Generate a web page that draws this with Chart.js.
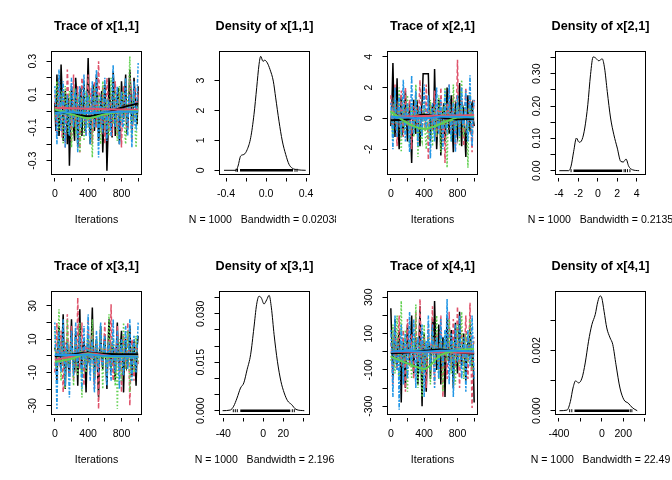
<!DOCTYPE html>
<html>
<head>
<meta charset="utf-8">
<script src="https://cdn.jsdelivr.net/npm/chart.js@4/dist/chart.umd.min.js"></script>
<style>
  html, body { margin: 0; padding: 0; background: #fff; }
  #wrap { position: relative; width: 672px; height: 480px; overflow: hidden; }
  #wrap canvas { position: absolute; }
</style>
</head>
<body>
<div id="wrap"></div>
<script>
// iterations kept for the trace panels (thinned)
var iterations = [0, 12.5, 25, 37.5, 50, 62.5, 75, 87.5, 100, 112.5, 125, 137.5, 150, 162.5, 175, 187.5, 200, 212.5, 225, 237.5,
    250, 262.5, 275, 287.5, 300, 312.5, 325, 337.5, 350, 362.5, 375, 387.5, 400, 412.5, 425, 437.5, 450, 462.5, 475, 487.5,
    500, 512.5, 525, 537.5, 550, 562.5, 575, 587.5, 600, 612.5, 625, 637.5, 650, 662.5, 675, 687.5, 700, 712.5, 725, 737.5,
    750, 762.5, 775, 787.5, 800, 812.5, 825, 837.5, 850, 862.5, 875, 887.5, 900, 912.5, 925, 937.5, 950, 962.5, 975, 987.5, 1000];

// x[1,1] chains
var x11Chain1 = [0.05, -0.12, 0.22, 0.02, -0.15, -0.05, 0.28, 0.1, -0.18, -0.02, 0.12, 0.05, -0.2, 0.08, -0.33, -0.1, 0.15, 0.05, -0.1, -0.18,
    0.2, 0.1, -0.22, -0.08, 0.08, 0.14, -0.15, 0.02, 0.18, -0.12, -0.05, 0.1, 0.32, 0.05, -0.2, -0.06, 0.1, 0.16, -0.12, -0.02,
    0.22, 0.08, -0.18, -0.1, 0.05, 0.12, -0.25, -0.08, 0.16, 0.02, -0.36, -0.15, 0.2, 0.08, -0.08, -0.16, 0.24, 0.12, -0.15, 0.0,
    0.1, 0.14, -0.2, -0.06, 0.18, 0.06, -0.05, 0.1, 0.22, -0.12, -0.1, 0.05, 0.25, 0.12, -0.12, -0.04, 0.2, 0.1, 0.02, -0.08, 0.15];
var x11Chain2 = [0.1, -0.02, -0.15, 0.08, 0.2, 0.0, -0.05, -0.16, 0.12, 0.04, -0.22, -0.05, 0.25, 0.1, 0.05, -0.08, -0.18, 0.06, 0.22, -0.04,
    -0.1, 0.08, 0.15, -0.1, -0.25, 0.02, 0.2, 0.12, 0.1, -0.05, -0.15, 0.06, 0.22, -0.1, 0.05, 0.14, -0.2, 0.0, 0.18, 0.06,
    -0.1, 0.12, 0.3, 0.02, -0.05, -0.14, 0.15, 0.05, -0.2, -0.06, 0.2, 0.08, -0.12, 0.02, 0.1, -0.15, -0.05, 0.06, 0.18, -0.02,
    -0.15, 0.04, 0.12, -0.08, -0.22, 0.0, 0.15, 0.08, 0.05, -0.12, -0.1, 0.06, 0.2, 0.1, -0.18, -0.02, 0.1, 0.14, -0.05, 0.02, 0.12];
var x11Chain3 = [-0.05, 0.06, 0.18, 0.02, -0.12, -0.02, 0.1, 0.12, -0.2, -0.06, 0.15, 0.0, -0.05, -0.14, 0.12, 0.06, -0.22, -0.1, 0.05, 0.14,
    -0.15, -0.02, 0.1, 0.04, -0.25, -0.12, 0.08, 0.0, -0.18, 0.04, 0.12, -0.04, -0.1, 0.1, 0.05, -0.12, -0.28, -0.05, 0.15, 0.08,
    -0.05, -0.1, 0.1, 0.02, -0.2, -0.08, 0.18, 0.1, -0.1, 0.02, 0.05, -0.05, -0.15, 0.06, 0.2, -0.02, -0.08, 0.08, 0.12, -0.1,
    -0.18, 0.02, 0.15, -0.06, -0.05, 0.12, 0.1, -0.12, -0.2, 0.0, 0.08, 0.14, 0.33, -0.04, -0.15, 0.08, 0.1, -0.1, -0.22, -0.02, 0.05];
var x11Chain4 = [0.15, 0.0, -0.2, -0.05, 0.25, 0.08, -0.12, 0.04, 0.18, -0.06, -0.22, 0.02, 0.1, -0.08, -0.15, 0.06, 0.2, 0.0, -0.1, 0.1,
    0.12, -0.04, -0.25, 0.05, 0.15, -0.1, -0.05, 0.08, 0.22, -0.02, -0.15, 0.1, 0.08, -0.12, -0.2, 0.04, 0.18, -0.04, -0.1, 0.12,
    0.25, -0.06, -0.28, 0.02, 0.1, -0.1, -0.12, 0.08, 0.2, -0.04, -0.18, 0.06, 0.05, -0.08, -0.15, 0.1, 0.28, 0.0, -0.1, 0.06,
    0.15, -0.08, -0.2, 0.04, 0.12, -0.1, -0.08, 0.1, 0.2, -0.02, -0.15, 0.08, 0.1, -0.06, -0.22, 0.04, 0.18, -0.08, -0.1, 0.1, 0.29];

// x[2,1] chains
var x21Chain1 = [-0.5, 0.8, 3.6, 0.5, -1.2, 0.2, 2.6, -0.4, -2.0, 0.3, 1.5, -1.0, -0.8, 0.6, 1.8, -0.2, -1.5, 0.4, 0.8, -1.0,
    -2.9, 0.2, 1.2, -0.6, -1.0, 1.2, 0.5, -0.8, -1.8, 0.3, 1.0, 2.9, 2.9, 2.9, 2.9, 2.9, 2.9, 0.4, -1.5, 0.6,
    0.8, -0.8, 3.2, 0.2, -2.0, -0.5, 1.2, 0.6, -2.4, -0.3, 0.5, 1.0, -1.5, -0.4, 2.0, 0.2, -1.0, 0.5, 1.5, -0.6,
    -2.2, 0.4, 0.8, -0.8, -1.2, 0.6, 2.3, -0.2, -1.8, 0.8, 0.5, -1.0, -2.5, 0.2, 1.5, -0.6, -0.8, 0.8, 1.0, 0.0, -0.5];
var x21Chain2 = [1.5, 0.2, -1.0, 0.6, 2.2, -0.5, -1.8, 0.8, 0.5, -0.6, 1.8, 0.2, -1.2, 0.8, 2.0, -0.4, -0.5, 0.6, 1.2, -0.8,
    -2.0, 0.3, 0.8, -0.5, 1.5, 0.4, -1.5, 0.8, 2.5, -0.3, -1.0, 0.6, 0.3, -0.8, 2.2, 0.4, -2.7, -0.2, 1.0, 0.5,
    -0.8, 0.2, 1.8, -0.6, -1.2, 0.9, 0.5, -1.0, 2.0, 0.3, -1.5, 0.4, -2.9, -0.5, 1.0, 0.2, 2.2, -0.7, -0.8, 0.6,
    1.5, -0.3, -2.0, 0.5, 3.8, 0.0, -1.0, 0.8, 1.2, -0.4, -1.8, 0.6, 2.0, -0.2, -0.5, 0.7, 1.5, -0.8, -2.2, 0.3, 1.2];
var x21Chain3 = [0.5, 0.0, -1.5, 0.6, 1.8, -0.2, -0.8, 0.4, 2.0, -0.6, -2.2, 0.2, 1.2, -0.8, -0.5, 0.5, 1.5, -0.4, -1.8, -0.2,
    0.8, 0.3, -1.2, -0.6, 2.2, 0.4, -2.5, -0.8, 0.5, -1.2, -1.5, 0.2, 1.0, -1.0, -2.0, -0.3, -0.5, -1.4, 1.2, -0.2,
    -1.8, 0.0, 0.8, -0.8, -1.0, 0.4, 1.5, -0.5, -2.2, 0.2, 0.5, -0.6, 2.0, 0.3, -3.2, -0.4, 1.0, 0.5, -1.5, -0.2,
    2.2, 0.6, -0.8, -0.4, 1.2, 0.2, -1.8, 0.5, 2.5, -0.3, -1.2, 0.6, 0.8, -0.5, -3.2, 0.2, 1.5, -0.4, -1.0, 0.6, 0.5];
var x21Chain4 = [1.0, -0.2, -2.0, 0.4, 2.0, 0.0, -1.2, 0.6, 1.5, -0.4, -0.8, 0.8, 2.5, -0.2, -1.5, 0.5, 1.0, -0.6, -2.2, 0.3,
    2.8, -0.4, -1.0, 0.6, 1.8, -0.2, -1.8, 0.4, 0.8, -0.6, -1.2, 0.9, 2.2, -0.3, -0.5, 0.5, 1.5, -0.8, -2.6, 0.2,
    1.0, -0.4, -1.5, 0.7, 2.0, -0.1, -1.0, 0.5, 1.2, -0.7, -2.0, 0.3, 1.8, -0.5, -0.8, 0.6, 2.2, -0.2, -1.5, 0.4,
    1.0, -0.6, -2.2, 0.5, 1.5, -0.3, -1.2, 0.7, 2.0, -0.4, -0.5, 0.5, 1.8, -0.6, -1.5, 0.3, 2.8, -0.2, -1.8, 0.6, 1.2];

// x[3,1] chains
var x31Chain1 = [5, 2, -15, 6, 18, -2, -8, 8, 25, -4, -20, 3, 10, -6, -12, 5, 22, 0, -5, -10,
    15, 4, -18, 6, 28, -3, -10, 7, 8, -6, -22, 2, 12, -4, -5, 8, 29, 0, -15, 5,
    10, -8, -25, 4, 18, -2, -8, 7, 12, -5, -20, 3, 22, -1, -10, 6, 5, -6, -15, 4,
    20, -3, -8, 6, 15, -2, -22, 5, 10, -7, -5, 4, 18, -3, -12, 6, 8, -4, -18, 5, 12];
var x31Chain2 = [-10, 4, 20, -3, -5, 6, 15, -4, -22, 0, 8, -5, 25, 3, -12, 6, 18, -2, -15, 5,
    10, -6, 35, 4, -8, 2, 20, -4, -18, 6, 5, -3, 22, 2, -10, 7, 15, -5, -20, 3,
    8, -6, -32, 2, 15, -3, -5, 6, 20, -2, -12, 4, 10, -5, 31, 3, -15, 0, 5, -6,
    18, 2, -10, 5, -22, -2, 12, 4, -8, -4, 20, 2, -30, -3, 10, 5, -15, -2, 8, 3, -5];
var x31Chain3 = [15, -4, -8, 6, 28, -2, -15, 4, 10, -7, -20, 2, 22, -4, -5, 6, 12, -3, -18, 5,
    8, -6, -12, 3, 20, -2, -25, 4, 5, -8, -10, 6, 15, -3, -8, 5, 22, -6, -15, 2,
    10, -4, -5, 7, 18, -2, -20, 4, 8, -5, -12, 3, 25, -2, -8, 6, 12, -4, -18, 2,
    -32, -6, 10, 4, -15, -2, 20, 3, -8, -5, 15, 2, -22, -4, 5, 6, -10, -2, 12, 3, -5];
var x31Chain4 = [20, -4, -32, 2, 15, -3, -10, 6, 22, -2, -18, 4, 8, -6, -25, 3, 15, -1, -12, 5,
    20, -3, -5, 6, 12, -4, -20, 2, 18, -5, -8, 7, 25, -2, -15, 4, 10, -6, -22, 3,
    15, -2, -10, 6, 20, -4, -5, 5, 12, -3, -18, 4, 8, -6, -15, 3, 22, -2, -10, 5,
    15, -4, -20, 3, 10, -5, -12, 6, 18, -2, -8, 4, 22, -6, -15, 3, 12, -4, -10, 5, 20];

// x[4,1] chains
var x41Chain1 = [240, 40, -150, 20, 180, -30, -80, 60, 120, -40, -280, 10, 50, -60, -200, 30, 150, -20, -50, 70,
    200, -30, -120, 40, 80, -50, -180, 20, 250, -40, -300, 30, 100, -60, -220, 10, 60, 40, -150, 20,
    180, -20, 280, 50, -100, -30, 150, 40, -180, -20, 80, 30, -250, -10, 200, 40, -60, 20, 120, -40,
    -200, 10, 160, -30, -120, 50, 220, -20, -80, 30, 100, -50, -160, 20, 50, -30, 150, 40, -100, -20, -280];
var x41Chain2 = [50, -20, -180, 30, 150, -40, -100, 50, 200, -10, -50, 40, 120, -30, -220, 20, 180, -40, -80, 60,
    100, -50, -150, 20, 220, -30, -60, 40, 290, -20, -120, 50, 80, -40, -200, 10, 150, -20, -30, 60,
    250, -40, -180, 20, 100, -30, -120, 50, 200, -20, -250, 10, 60, -40, -150, 30, 220, -10, -100, 40,
    180, -30, -80, 50, 250, -20, -200, 30, 120, -40, -60, 50, 200, -30, -150, 20, 270, -40, -310, 30, 80];
var x41Chain3 = [-50, 20, 150, -30, -120, 40, 200, -20, -180, 30, 280, -50, -80, 40, 120, -60, -220, 10, 60, -40,
    -150, 30, 100, -20, 260, -70, -200, -20, 50, -60, -250, -10, 150, -80, -100, 20, 80, -60, -180, -10,
    120, -50, -60, 20, 200, -30, -150, 40, 80, -20, -220, 30, 100, -10, -50, 40, 180, -20, -120, 30,
    60, -40, -180, 20, 150, -30, -80, 40, 220, -10, -150, 30, 100, -20, -60, 40, 180, -10, -100, 30, 50];
var x41Chain4 = [120, -20, -250, 30, 200, -40, -100, 50, -320, -10, 150, -30, -180, 40, 100, -20, -150, 30, 220, -40,
    -60, 50, 180, -10, -200, 30, 80, -40, -120, 60, 150, -20, -250, 20, 60, -30, 200, 10, -100, 40,
    150, -30, -200, 20, 80, -40, -150, 50, 180, -20, -80, 30, 120, -10, 290, 20, -180, -30, 100, 40,
    -250, -20, 150, 30, -50, -40, 200, 20, -150, -30, 80, 40, -220, -10, 120, 30, -80, -20, 200, 40, -150];

// lowess smooths, one row per chain
var smoothIter = [0, 200, 400, 600, 800, 1000];
var x11Smooth = [[0.0, -0.018, -0.032, -0.012, 0.02, 0.045], [0.02, 0.017, 0.014, 0.011, 0.009, 0.007],
    [0.01, -0.02, -0.043, -0.02, -0.005, 0.0], [-0.01, -0.008, -0.012, -0.008, -0.005, -0.005]];
var x21Smooth = [[-0.12, -0.05, 0.25, 0.05, -0.05, -0.02], [0.08, 0.12, 0.15, 0.17, 0.19, 0.22],
    [0.42, -0.3, -0.68, -0.35, 0.05, 0.1], [0.1, 0.05, 0.0, 0.1, 0.1, 0.05]];
var x31Smooth = [[-0.2, 0.8, 1.8, 1.2, 0.9, 1.0], [-2.5, -0.5, 1.6, 0.4, -0.3, -0.3],
    [-3.6, -1.8, 1.3, -0.6, -0.5, -0.4], [0.5, 0.5, 0.8, 0.0, -0.3, -0.5]];
var x41Smooth = [[-9, -4, 5, 12, -3, -11], [0, 0, -2, -3, -4, -5],
    [-27, -64, -95, -18, 7, 16], [0, 5, 0, 5, 5, 0]];

// densities
var x11DensX = [-0.42, -0.30, -0.28, -0.253, -0.22, -0.187, -0.153, -0.12, -0.093, -0.07, -0.053, -0.03, -0.013, 0.013, 0.04, 0.073, 0.097, 0.13, 0.163, 0.197, 0.23, 0.263, 0.307, 0.397];
var x11DensY = [0, 0, 0.14, 0.48, 0.53, 0.7, 1.09, 1.87, 2.76, 3.53, 3.81, 3.64, 3.68, 3.59, 3.37, 2.98, 2.42, 1.64, 0.98, 0.53, 0.2, 0.07, 0.02, 0];
var x21DensX = [-3.96, -3.0, -2.75, -2.48, -2.2, -1.93, -1.62, -1.34, -1.03, -0.75, -0.48, -0.24, 0.1, 0.45, 0.69, 0.97, 1.31, 1.65, 2.0, 2.35, 2.62, 2.9, 3.17, 3.55, 4.24];
var x21DensY = [0, 0, 0.014, 0.06, 0.101, 0.088, 0.096, 0.132, 0.204, 0.297, 0.352, 0.349, 0.34, 0.346, 0.318, 0.245, 0.163, 0.111, 0.07, 0.029, 0.027, 0.036, 0.014, 0.003, 0];
var x31DensX = [-40.7, -33, -29.6, -26.3, -22.8, -19.5, -16.2, -12.7, -9.4, -6.7, -4.3, -2.0, 0.7, 3.4, 5.8, 8.1, 10.8, 14.1, 17.6, 20.9, 24.2, 28.3, 32.7, 41];
var x31DensY = [0, 0.0002, 0.0014, 0.0039, 0.007, 0.0086, 0.0127, 0.0173, 0.0256, 0.0328, 0.0354, 0.0349, 0.033, 0.0343, 0.0357, 0.0318, 0.0235, 0.0153, 0.0091, 0.0055, 0.0031, 0.0019, 0.0004, 0];
var x41DensX = [-395, -324, -293, -269, -244, -217, -185, -155, -124, -93, -62, -37, -16, 0, 21, 46, 77, 102, 132, 169, 206, 246, 287, 330];
var x41DensY = [0, 0.00002, 0.00031, 0.00075, 0.00099, 0.00092, 0.00108, 0.00158, 0.0023, 0.00285, 0.00318, 0.00362, 0.0038, 0.00373, 0.00329, 0.00274, 0.00241, 0.00219, 0.00152, 0.00075, 0.00036, 0.00025, 0.00009, 0];

// rug of observations: dense span, then the scattered ones
var x11RugSpan = [-0.26, 0.27];
var x11RugTails = [-0.3, -0.285, 0.29, 0.31];
var x21RugSpan = [-2.5, 2.5];
var x21RugTails = [-2.75, 2.7, 2.85, 3.05, 3.3];
var x31RugSpan = [-23, 27];
var x31RugTails = [-30, -28, -26, 29, 31];
var x41RugSpan = [-255, 255];
var x41RugTails = [-300, -280, 265, 280];

var sampleSize = 1000;
var bandwidths = ['0.02038', '0.2135', '2.196', '22.49'];
var params = ['x[1,1]', 'x[2,1]', 'x[3,1]', 'x[4,1]'];

// axis limits and ticks
var traceRangeX = [-40, 1040];
var traceTicksX = [0, 200, 400, 600, 800, 1000];
var traceLabelsX = ['0', '', '400', '', '800', ''];

var x11TraceRange = [-0.383, 0.359];
var x11TraceTicks = [-0.3, -0.2, -0.1, 0, 0.1, 0.2, 0.3];
var x11TraceLabels = ['-0.3', '', '-0.1', '', '0.1', '', '0.3'];
var x21TraceRange = [-3.64, 4.34];
var x21TraceTicks = [-2, 0, 2, 4];
var x21TraceLabels = ['-2', '0', '2', '4'];
var x31TraceRange = [-35.3, 38.7];
var x31TraceTicks = [-30, -20, -10, 0, 10, 20, 30];
var x31TraceLabels = ['-30', '', '-10', '', '10', '', '30'];
var x41TraceRange = [-346, 332];
var x41TraceTicks = [-300, -200, -100, 0, 100, 200, 300];
var x41TraceLabels = ['-300', '', '-100', '', '100', '', '300'];

var x11DensRangeX = [-0.465, 0.435];
var x11DensTicksX = [-0.4, -0.2, 0, 0.2, 0.4];
var x11DensLabelsX = ['-0.4', '', '0.0', '', '0.4'];
var x11DensRangeY = [-0.14, 3.97];
var x11DensTicksY = [0, 1, 2, 3];
var x11DensLabelsY = ['0', '1', '2', '3'];

var x21DensRangeX = [-4.35, 4.9];
var x21DensTicksX = [-4, -2, 0, 2, 4];
var x21DensLabelsX = ['-4', '-2', '0', '2', '4'];
var x21DensRangeY = [-0.0118, 0.3687];
var x21DensTicksY = [0, 0.05, 0.1, 0.15, 0.2, 0.25, 0.3, 0.35];
var x21DensLabelsY = ['0.00', '', '0.10', '', '0.20', '', '0.30', ''];

var x31DensRangeX = [-43.8, 46.2];
var x31DensTicksX = [-40, -20, 0, 20, 40];
var x31DensLabelsX = ['-40', '', '0', '20', ''];
var x31DensRangeY = [-0.00118, 0.03687];
var x31DensTicksY = [0, 0.005, 0.01, 0.015, 0.02, 0.025, 0.03, 0.035];
var x31DensLabelsY = ['0.000', '', '', '0.015', '', '', '0.030', ''];

var x41DensRangeX = [-432, 407];
var x41DensTicksX = [-400, -200, 0, 200, 400];
var x41DensLabelsX = ['-400', '', '0', '200', ''];
var x41DensRangeY = [-0.000126, 0.003947];
var x41DensTicksY = [0, 0.001, 0.002, 0.003];
var x41DensLabelsY = ['0.000', '', '0.002', ''];

var FONT = '"Liberation Sans", Arial, Helvetica, sans-serif';
var chainColors = ['#000000', '#DF536B', '#61D04F', '#2297E6'];
var chainDash = [[], [4, 2.5], [1.5, 2], [2, 1.5, 4, 1.5]];

var measure = document.createElement('canvas').getContext('2d');
function yTickPadding(labels) {
    measure.font = '10.56px ' + FONT;
    var w = 0;
    labels.forEach(function (l) { w = Math.max(w, measure.measureText(l).width); });
    return 13 - w / 2;
}

function toPoints(xs, ys) {
    return ys.map(function (y, i) { return { x: xs[i], y: y }; });
}

// box, main title and x label, placed like R's plot region
var panelText = {
    id: 'panelText',
    afterDraw: function (chart, args, opts) {
        var a = chart.chartArea;
        var ctx = chart.ctx;
        var cx = (a.left + a.right) / 2;
        ctx.save();
        ctx.strokeStyle = '#000';
        ctx.lineWidth = 1;
        ctx.strokeRect(a.left, a.top, a.right - a.left, a.bottom - a.top);
        ctx.fillStyle = '#000';
        ctx.textAlign = 'center';
        ctx.textBaseline = 'middle';
        ctx.font = 'bold 12.67px ' + FONT;
        ctx.fillText(opts.title, cx, 26.7);
        ctx.font = '10.56px ' + FONT;
        ctx.fillText(opts.xlab, cx, 220);
        ctx.restore();
    }
};

function axis(range, ticks, labels, isX) {
    var cfg = {
        type: 'linear',
        min: range[0],
        max: range[1],
        afterBuildTicks: function (s) { s.ticks = ticks.map(function (v) { return { value: v }; }); },
        border: { display: false },
        grid: { drawOnChartArea: false, tickColor: '#000', tickWidth: 1 },
        ticks: {
            autoSkip: false,
            color: '#000',
            font: { family: FONT, size: 10.56 },
            callback: function (v, i) { return labels[i]; }
        }
    };
    if (isX) {
        cfg.afterFit = function (s) { s.height = 65.5; };
        cfg.grid.tickLength = 7;
        cfg.grid.tickBorderDash = [4, 3];
        cfg.grid.tickBorderDashOffset = 4;
        cfg.ticks.maxRotation = 0;
        cfg.ticks.minRotation = 0;
        cfg.ticks.padding = 6;
    } else {
        cfg.afterFit = function (s) { s.width = 51.5; };
        cfg.grid.tickLength = 5;
        cfg.ticks.minRotation = 90;
        cfg.ticks.maxRotation = 90;
        cfg.ticks.crossAlign = 'center';
        cfg.ticks.padding = yTickPadding(labels);
    }
    return cfg;
}

function makeCanvas(col, row) {
    var c = document.createElement('canvas');
    c.width = 168;
    c.height = 240;
    c.style.width = '168px';
    c.style.height = '240px';
    c.style.left = (col * 168) + 'px';
    c.style.top = (row * 240) + 'px';
    document.getElementById('wrap').appendChild(c);
    return c;
}

function baseOptions(title, xlab, scales) {
    return {
        responsive: false,
        maintainAspectRatio: false,
        animation: false,
        events: [],
        layout: { padding: { top: 51.5, right: 26.5, left: 0, bottom: 0 } },
        plugins: { legend: { display: false }, tooltip: { enabled: false }, panelText: { title: title, xlab: xlab } },
        scales: scales
    };
}

function traceChart(col, row, name, chains, smooths, range, ticks, labels) {
    var datasets = [];
    chains.forEach(function (vals, k) {
        datasets.push({
            data: toPoints(iterations, vals),
            borderColor: chainColors[k],
            borderWidth: 1.5,
            borderDash: chainDash[k],
            pointRadius: 0,
            tension: 0,
            fill: false,
            order: 10 - k
        });
    });
    smooths.forEach(function (vals, k) {
        datasets.push({
            data: toPoints(smoothIter, vals),
            borderColor: chainColors[k],
            borderWidth: 2,
            pointRadius: 0,
            cubicInterpolationMode: 'monotone',
            fill: false,
            order: 4 - k
        });
    });
    new Chart(makeCanvas(col, row), {
        type: 'line',
        data: { datasets: datasets },
        options: baseOptions('Trace of ' + name, 'Iterations', {
            x: axis(traceRangeX, traceTicksX, traceLabelsX, true),
            y: axis(range, ticks, labels, false)
        }),
        plugins: [panelText]
    });
}

function densityChart(col, row, name, bw, dx, dy, rugSpan, rugTails, rx, tx, lx, ry, ty, ly) {
    var datasets = [
        {
            data: toPoints(dx, dy),
            borderColor: '#000',
            borderWidth: 1,
            pointRadius: 0,
            cubicInterpolationMode: 'monotone',
            fill: false
        },
        {
            data: rugSpan.map(function (x) { return { x: x, y: 0 }; }),
            borderColor: '#000',
            borderWidth: 2.5,
            pointRadius: 0,
            fill: false
        },
        {
            data: rugTails.map(function (x) { return { x: x, y: 0 }; }),
            showLine: false,
            borderColor: '#000',
            borderWidth: 1,
            pointStyle: 'line',
            pointRotation: 90,
            pointRadius: 1.5
        }
    ];
    new Chart(makeCanvas(col, row), {
        type: 'line',
        data: { datasets: datasets },
        options: baseOptions('Density of ' + name, 'N = ' + sampleSize + '   Bandwidth = ' + bw, {
            x: axis(rx, tx, lx, true),
            y: axis(ry, ty, ly, false)
        }),
        plugins: [panelText]
    });
}

traceChart(0, 0, params[0], [x11Chain1, x11Chain2, x11Chain3, x11Chain4], x11Smooth, x11TraceRange, x11TraceTicks, x11TraceLabels);
densityChart(1, 0, params[0], bandwidths[0], x11DensX, x11DensY, x11RugSpan, x11RugTails,
    x11DensRangeX, x11DensTicksX, x11DensLabelsX, x11DensRangeY, x11DensTicksY, x11DensLabelsY);
traceChart(2, 0, params[1], [x21Chain1, x21Chain2, x21Chain3, x21Chain4], x21Smooth, x21TraceRange, x21TraceTicks, x21TraceLabels);
densityChart(3, 0, params[1], bandwidths[1], x21DensX, x21DensY, x21RugSpan, x21RugTails,
    x21DensRangeX, x21DensTicksX, x21DensLabelsX, x21DensRangeY, x21DensTicksY, x21DensLabelsY);
traceChart(0, 1, params[2], [x31Chain1, x31Chain2, x31Chain3, x31Chain4], x31Smooth, x31TraceRange, x31TraceTicks, x31TraceLabels);
densityChart(1, 1, params[2], bandwidths[2], x31DensX, x31DensY, x31RugSpan, x31RugTails,
    x31DensRangeX, x31DensTicksX, x31DensLabelsX, x31DensRangeY, x31DensTicksY, x31DensLabelsY);
traceChart(2, 1, params[3], [x41Chain1, x41Chain2, x41Chain3, x41Chain4], x41Smooth, x41TraceRange, x41TraceTicks, x41TraceLabels);
densityChart(3, 1, params[3], bandwidths[3], x41DensX, x41DensY, x41RugSpan, x41RugTails,
    x41DensRangeX, x41DensTicksX, x41DensLabelsX, x41DensRangeY, x41DensTicksY, x41DensLabelsY);
</script>
</body>
</html>
